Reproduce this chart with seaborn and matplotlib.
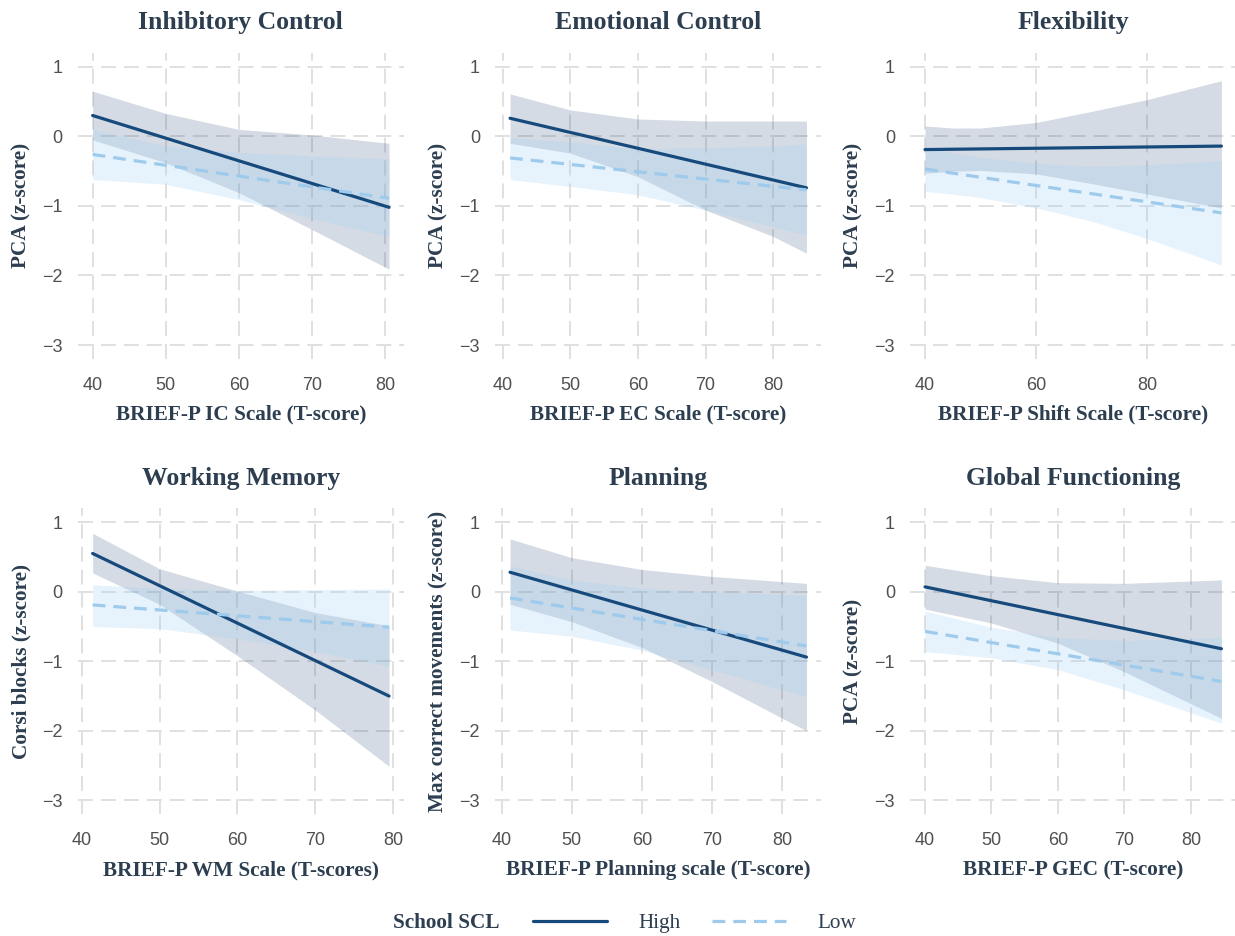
import numpy as np
import pandas as pd
import matplotlib
matplotlib.use("Agg")
import matplotlib.pyplot as plt
import seaborn as sns
from matplotlib.lines import Line2D

sns.set_theme(style="white")
plt.rcParams["font.family"] = ["Liberation Sans", "DejaVu Sans"]

# ---------------- text ----------------
TITLES = ["Inhibitory Control", "Emotional Control", "Flexibility",
          "Working Memory", "Planning", "Global Functioning"]
XLABELS = ["BRIEF-P IC Scale (T-score)", "BRIEF-P EC Scale (T-score)",
           "BRIEF-P Shift Scale (T-score)", "BRIEF-P WM Scale (T-scores)",
           "BRIEF-P Planning scale (T-score)", "BRIEF-P GEC (T-score)"]
YLABELS = ["PCA (z-score)", "PCA (z-score)", "PCA (z-score)",
           "Corsi blocks (z-score)", "Max correct movements (z-score)", "PCA (z-score)"]
XTICKS = [[40, 50, 60, 70, 80], [40, 50, 60, 70, 80], [40, 60, 80],
          [40, 50, 60, 70, 80], [40, 50, 60, 70, 80], [40, 50, 60, 70, 80]]
YTICKS = [-3, -2, -1, 0, 1]
GROUPS = ["High", "Low"]
LEGEND_TITLE = "School SCL"

# ---------------- data ----------------
# Inhibitory Control
IC_X = [40, 50, 60, 70, 80.5]
IC_HIGH_FIT = [0.30, -1.02]
IC_HIGH_LO = [-0.05, -0.38, -0.81, -1.34, -1.91]
IC_HIGH_HI = [0.65, 0.33, 0.10, 0.02, -0.10]
IC_LOW_FIT = [-0.26, -0.89]
IC_LOW_LO = [-0.62, -0.69, -0.91, -1.18, -1.44]
IC_LOW_HI = [0.10, -0.14, -0.23, -0.28, -0.32]

# Emotional Control
EC_X = [41.1, 50, 60, 70, 80, 84.9]
EC_HIGH_FIT = [0.26, -0.74]
EC_HIGH_LO = [-0.10, -0.24, -0.58, -1.06, -1.44, -1.68]
EC_HIGH_HI = [0.61, 0.38, 0.25, 0.22, 0.22, 0.22]
EC_LOW_FIT = [-0.31, -0.77]
EC_LOW_LO = [-0.62, -0.72, -0.84, -1.06, -1.30, -1.42]
EC_LOW_HI = [-0.02, -0.08, -0.18, -0.16, -0.14, -0.11]

# Flexibility
FX_X = [40, 45, 50, 60, 70, 80, 93.3]
FX_HIGH_FIT = [-0.19, -0.14]
FX_HIGH_LO = [-0.53, -0.50, -0.49, -0.54, -0.68, -0.83, -1.03]
FX_HIGH_HI = [0.15, 0.12, 0.12, 0.20, 0.36, 0.53, 0.80]
FX_LOW_FIT = [-0.47, -1.10]
FX_LOW_LO = [-0.79, -0.83, -0.88, -1.03, -1.22, -1.47, -1.85]
FX_LOW_HI = [-0.15, -0.24, -0.30, -0.39, -0.43, -0.41, -0.35]

# Working Memory
WM_X = [41.4, 50, 60, 70, 79.5]
WM_HIGH_FIT = [0.55, -1.50]
WM_HIGH_LO = [0.27, -0.18, -0.92, -1.70, -2.51]
WM_HIGH_HI = [0.84, 0.33, 0.01, -0.30, -0.49]
WM_LOW_FIT = [-0.19, -0.51]
WM_LOW_LO = [-0.50, -0.53, -0.68, -0.86, -1.07]
WM_LOW_HI = [0.10, 0.05, 0.02, 0.03, 0.04]

# Planning
PL_X = [41.2, 50, 60, 70, 83.5]
PL_HIGH_FIT = [0.28, -0.94]
PL_HIGH_LO = [-0.18, -0.43, -0.80, -1.29, -2.00]
PL_HIGH_HI = [0.76, 0.49, 0.32, 0.22, 0.12]
PL_LOW_FIT = [-0.09, -0.78]
PL_LOW_LO = [-0.55, -0.64, -0.84, -1.12, -1.51]
PL_LOW_HI = [0.37, 0.17, 0.05, 0.00, -0.05]

# Global Functioning
GF_X = [40, 50, 60, 70, 84.6]
GF_HIGH_FIT = [0.07, -0.82]
GF_HIGH_LO = [-0.25, -0.45, -0.74, -1.15, -1.82]
GF_HIGH_HI = [0.38, 0.23, 0.13, 0.12, 0.17]
GF_LOW_FIT = [-0.57, -1.29]
GF_LOW_LO = [-0.86, -0.95, -1.12, -1.41, -1.89]
GF_LOW_HI = [-0.28, -0.51, -0.66, -0.70, -0.66]

PANELS = [
    (IC_X, IC_HIGH_FIT, IC_HIGH_LO, IC_HIGH_HI, IC_LOW_FIT, IC_LOW_LO, IC_LOW_HI),
    (EC_X, EC_HIGH_FIT, EC_HIGH_LO, EC_HIGH_HI, EC_LOW_FIT, EC_LOW_LO, EC_LOW_HI),
    (FX_X, FX_HIGH_FIT, FX_HIGH_LO, FX_HIGH_HI, FX_LOW_FIT, FX_LOW_LO, FX_LOW_HI),
    (WM_X, WM_HIGH_FIT, WM_HIGH_LO, WM_HIGH_HI, WM_LOW_FIT, WM_LOW_LO, WM_LOW_HI),
    (PL_X, PL_HIGH_FIT, PL_HIGH_LO, PL_HIGH_HI, PL_LOW_FIT, PL_LOW_LO, PL_LOW_HI),
    (GF_X, GF_HIGH_FIT, GF_HIGH_LO, GF_HIGH_HI, GF_LOW_FIT, GF_LOW_LO, GF_LOW_HI),
]

# ---------------- style ----------------
HIGH_LINE = "#174A7C"
LOW_LINE = "#9ECAEC"
HIGH_FILL = "#1B3A6B"
LOW_FILL = "#9FD0F5"
TEXT_COL = "#2C3E50"
TICK_COL = "#505050"
GRID_COL = "#E0E0E0"
SERIF = ["Liberation Serif", "DejaVu Serif"]

fig = plt.figure(figsize=(12.35, 9.36), dpi=100)
lefts = [0.063, 0.401, 0.737]
bottoms = [0.6165, 0.130]
W, H = 0.264, 0.327

for i, (x, hf, hlo, hhi, lf, llo, lhi) in enumerate(PANELS):
    r, c = divmod(i, 3)
    ax = fig.add_axes([lefts[c], bottoms[r], W, H])
    ax.fill_between(x, hlo, hhi, color=HIGH_FILL, alpha=0.18, lw=0, zorder=2)
    ax.fill_between(x, llo, lhi, color=LOW_FILL, alpha=0.25, lw=0, zorder=2)
    df = pd.DataFrame({
        "x": [x[0], x[-1], x[0], x[-1]],
        "y": list(hf) + list(lf),
        "group": [GROUPS[0]] * 2 + [GROUPS[1]] * 2,
    })
    sns.lineplot(data=df, x="x", y="y", hue="group", style="group",
                 palette={"High": HIGH_LINE, "Low": LOW_LINE},
                 dashes={"High": "", "Low": (4, 2.5)},
                 linewidth=2.3, ax=ax, legend=False, zorder=3)
    span = x[-1] - x[0]
    ax.set_xlim(x[0] - 0.05 * span, x[-1] + 0.05 * span)
    ax.set_ylim(-3.2, 1.2)
    ax.set_xticks(XTICKS[i])
    ax.set_yticks(YTICKS)
    ax.grid(True, color=GRID_COL, linestyle=(0, (7.7, 4.1)), linewidth=1.4, zorder=0)
    ax.set_axisbelow(True)
    for s in ax.spines.values():
        s.set_visible(False)
    ax.tick_params(length=0, labelsize=13, labelcolor=TICK_COL)
    ax.tick_params(axis="x", pad=13)
    ax.tick_params(axis="y", pad=11)
    ax.set_title(TITLES[i], family=SERIF, fontweight="bold", fontsize=18.5,
                 color=TEXT_COL, pad=17)
    ax.set_xlabel(XLABELS[i], family=SERIF, fontweight="bold", fontsize=15.3,
                  color=TEXT_COL)
    ax.set_ylabel(YLABELS[i], family=SERIF, fontweight="bold", fontsize=15.3,
                  color=TEXT_COL)
    ax.xaxis.set_label_coords(0.5, -0.150)
    ax.yaxis.set_label_coords(-0.143, 0.5)

# legend
fig.text(393 / 1235, 1 - 923 / 936, LEGEND_TITLE, family=SERIF, fontweight="bold",
         fontsize=15.3, color=TEXT_COL, ha="left", va="center")
handles = [Line2D([], [], color=HIGH_LINE, lw=2.3),
           Line2D([], [], color=LOW_LINE, lw=2.3, dashes=(4, 2.5))]
leg = fig.legend(handles, GROUPS, loc="center left",
                 bbox_to_anchor=(533 / 1235, 1 - 923 / 936), ncol=2, frameon=False,
                 handlelength=3.5, handletextpad=1.46, columnspacing=1.46,
                 borderpad=0, borderaxespad=0,
                 prop={"family": SERIF, "size": 15.3})
for t in leg.get_texts():
    t.set_color(TEXT_COL)

fig.savefig("out.png", dpi=100, facecolor="white")
